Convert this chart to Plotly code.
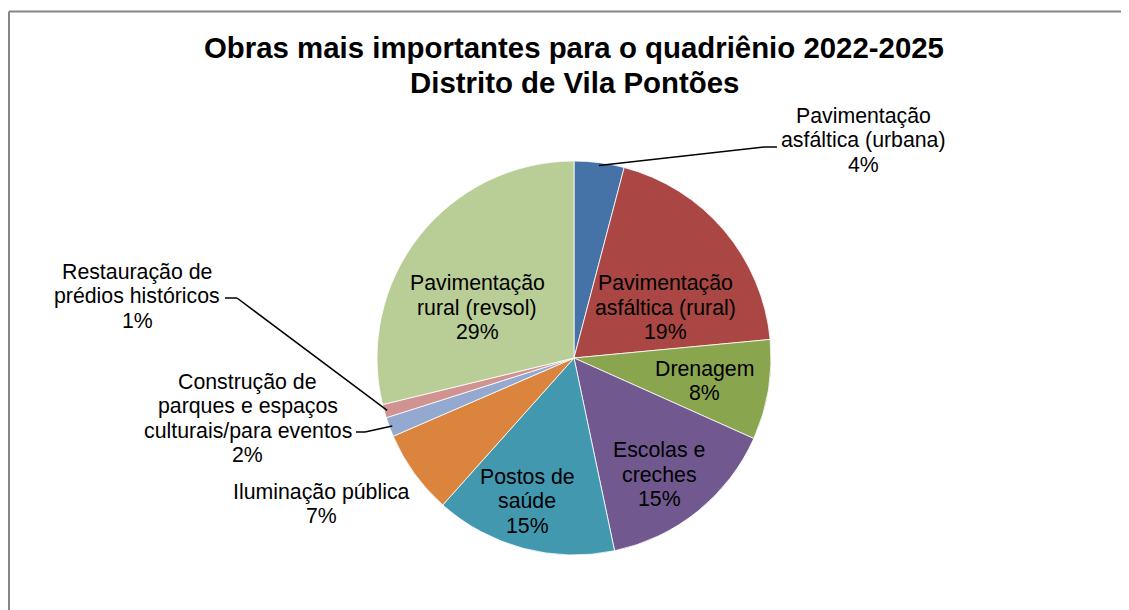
import math
import plotly.graph_objects as go

# ---------------- data ----------------
categories = [
    "Pavimentação asfáltica (urbana)",
    "Pavimentação asfáltica (rural)",
    "Drenagem",
    "Escolas e creches",
    "Postos de saúde",
    "Iluminação pública",
    "Construção de parques e espaços culturais/para eventos",
    "Restauração de prédios históricos",
    "Pavimentação rural (revsol)",
]
values = [4.1, 19.4, 8.2, 15.0, 14.9, 6.9, 1.6, 1.1, 28.8]
title_lines = ["Obras mais importantes para o quadriênio 2022-2025",
               "Distrito de Vila Pontões"]

# ---------------- style / layout ----------------
colors = ["#4572A7", "#AA4643", "#89A54E", "#71588F", "#4198AF",
          "#DB843D", "#93A9CF", "#D19392", "#B9CD96"]
# wrapped label lines (category text split for display)
label_lines = [
    ["Pavimentação", "asfáltica (urbana)"],
    ["Pavimentação", "asfáltica (rural)"],
    ["Drenagem"],
    ["Escolas e", "creches"],
    ["Postos de", "saúde"],
    ["Iluminação pública"],
    ["Construção de", "parques e espaços", "culturais/para eventos"],
    ["Restauração de", "prédios históricos"],
    ["Pavimentação", "rural (revsol)"],
]
# label block centers in page pixels
label_pos = [
    (863, 140.5), (665.5, 307.5), (704, 381), (659, 474.5), (527, 501),
    (321.5, 504), (247.5, 418.5), (137, 296), (477, 307.5),
]
# leader lines: (elbow, end) on label side
leaders = {
    0: [(765, 147), (777, 147)],
    6: [(365, 432), (356, 432)],
    7: [(237, 298), (225, 298)],
}

W, H = 1129, 610
OFF = 8  # page offset of the plot div (body margin)
CX, CY, R = 574, 358, 197
FONT = "Arial, 'Liberation Sans', sans-serif"
LINE_H = 24.5


def px(x):
    return (x - OFF) / W


def py(y):
    return 1 - (y - OFF) / H


fig = go.Figure(go.Pie(
    labels=categories,
    values=values,
    sort=False,
    direction="clockwise",
    rotation=0,
    textinfo="none",
    hoverinfo="label+percent",
    marker=dict(colors=colors, line=dict(color="white", width=0.8)),
    domain=dict(x=[px(CX - R), px(CX + R)], y=[py(CY + R), py(CY - R)]),
    showlegend=False,
))

annotations = []
shapes = []
total = sum(values)

# title
for i, t in enumerate(title_lines):
    annotations.append(dict(
        x=px(574), y=py(48 + i * 34), xref="paper", yref="paper",
        text="<b>" + t + "</b>", showarrow=False,
        xanchor="center", yanchor="middle",
        font=dict(family=FONT, size=29.4, color="black")))

cum = 0.0
for i, v in enumerate(values):
    pct = f"{round(v / total * 100):.0f}%"
    lines = label_lines[i] + [pct]
    cx, cy = label_pos[i]
    n = len(lines)
    for j, ln in enumerate(lines):
        yy = cy + (j - (n - 1) / 2) * LINE_H
        annotations.append(dict(
            x=px(cx), y=py(yy), xref="paper", yref="paper",
            text=ln, showarrow=False, xanchor="center", yanchor="middle",
            font=dict(family=FONT, size=21.3, color="black")))
    mid = (cum + v / 2) / total * 2 * math.pi
    cum += v
    if i in leaders:
        ax = CX + 0.985 * R * math.sin(mid)
        ay = CY - 0.985 * R * math.cos(mid)
        pts = [(ax, ay)] + leaders[i]
        for (x0, y0), (x1, y1) in zip(pts[:-1], pts[1:]):
            shapes.append(dict(type="line", xref="paper", yref="paper",
                               x0=px(x0), y0=py(y0), x1=px(x1), y1=py(y1),
                               line=dict(color="black", width=1.5)))

# chart frame (top and left edges; others lie outside the window)
frame = dict(color="#868686", width=2)
shapes.append(dict(type="line", xref="paper", yref="paper", layer="below",
                   x0=px(9), y0=py(11.5), x1=px(W + 40), y1=py(11.5),
                   line=frame))
shapes.append(dict(type="line", xref="paper", yref="paper", layer="below",
                   x0=px(9), y0=py(11.5), x1=px(9), y1=py(H + 40),
                   line=frame))

fig.update_layout(
    width=W, height=H,
    margin=dict(l=0, r=0, t=0, b=0),
    paper_bgcolor="white",
    plot_bgcolor="white",
    annotations=annotations,
    shapes=shapes,
)

fig.write_html("out.html")
